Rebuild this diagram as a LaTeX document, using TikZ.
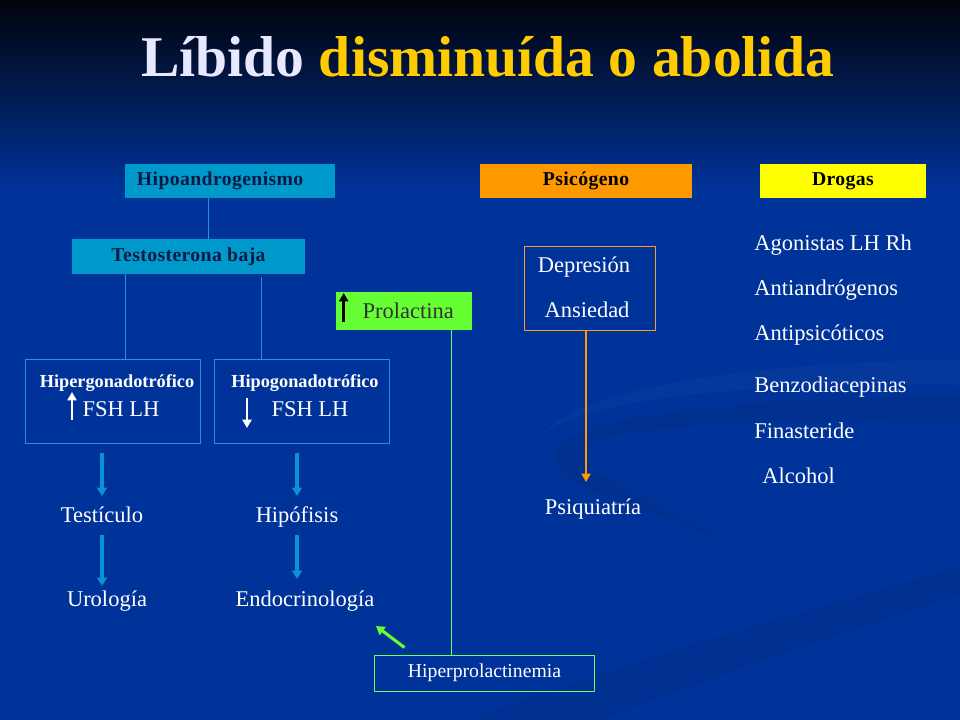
\documentclass[tikz,border=0pt]{standalone}
\usepackage{fontspec}
\setmainfont{Liberation Serif}
\usetikzlibrary{positioning,calc,arrows.meta}
\definecolor{bodyblue}{HTML}{003399}
\definecolor{midblue}{HTML}{0A1F55}
\definecolor{topblack}{HTML}{01030C}
\definecolor{cyanbox}{HTML}{0099CC}
\definecolor{boxtext}{HTML}{0B1A45}
\definecolor{orangebox}{HTML}{FF9900}
\definecolor{yellowbox}{HTML}{FFFF00}
\definecolor{greenbox}{HTML}{66FF33}
\definecolor{arrowblue}{HTML}{0A93D4}
\definecolor{lineblue}{HTML}{2B8FE0}
\definecolor{lineorange}{HTML}{FF9933}
\definecolor{linegreen}{HTML}{66FF66}
\definecolor{lavender}{HTML}{E8E8FF}
\definecolor{gold}{HTML}{FFCC00}
\begin{document}
\begin{tikzpicture}[x=0.025cm, y=-0.025cm, font=\fontsize{16}{19}\selectfont, line join=round,
	txt/.style={text=white, inner sep=0pt, anchor=base},
	capbox/.style={inner sep=0pt, text=boxtext, font=\bfseries\fontsize{14}{16}\selectfont\addfontfeatures{LetterSpace=2}},
	gonad/.style={draw=lineblue, line width=0.7pt, minimum width=4.35cm, minimum height=2.075cm, inner sep=0pt},
	thinline/.style={draw=lineblue, line width=0.7pt},
	bluearr/.style={draw=arrowblue, line width=2.2pt, -{Triangle[length=6pt,width=7pt]}},
	whitearr/.style={draw=white, line width=2pt, -{Triangle[length=6pt,width=6.5pt]}}]
	% fondo
	\useasboundingbox (0,0) rectangle (960,720);
	\fill[bodyblue] (0,190) rectangle (960,720);
	\shade[top color=topblack, middle color=midblue, bottom color=bodyblue] (0,0) rectangle (960,191);
	\fill[black, opacity=.06] (960,395) .. controls (700,400) and (540,420) .. (555,460) .. controls (570,500) and (700,520) .. (760,560) .. controls (680,510) and (590,480) .. (582,455) .. controls (575,430) and (720,418) .. (960,422) -- cycle;
	\fill[black, opacity=.05] (470,720) .. controls (650,650) and (820,610) .. (960,565) -- (960,595) .. controls (820,640) and (680,690) .. (600,720) -- cycle;
	\fill[white, opacity=.025] (960,360) .. controls (760,360) and (560,390) .. (540,440) .. controls (560,400) and (760,380) .. (960,385) -- cycle;
	% titulo
	\node (title) [anchor=base, text=lavender, font=\bfseries\fontsize{41}{44}\selectfont] at (488,77) {Líbido \textcolor{gold}{disminuída o abolida}};
	% cajas de cabecera
	\node (hipo) [capbox, fill=cyanbox, minimum width=5.25cm, minimum height=0.85cm] at (230,181) {\hspace{-14pt}Hipoandrogenismo};
	\node (psico) [capbox, fill=orangebox, text=black, minimum width=5.3cm, minimum height=0.85cm] at (586,181) {Psicógeno};
	\node (drogas) [capbox, fill=yellowbox, text=black, minimum width=4.15cm, minimum height=0.85cm] at (843,181) {Drogas};
	\node (testo) [capbox, fill=cyanbox, minimum width=5.825cm, minimum height=0.875cm] at (188.5,256.5) {Testosterona baja};
	\node (prol) [capbox, fill=greenbox, text=black!80, font=\fontsize{16}{19}\selectfont, minimum width=3.4cm, minimum height=0.95cm] at (404,311) {\hspace{6pt}Prolactina};
	% hipogonadismo
	\node (hiperA) [gonad] at (113,401.5) {};
	\node (hipoB) [gonad] at (302,401.5) {};
	\node (hiperT) [txt, font=\bfseries\fontsize{13}{15}\selectfont] at (117,388) {Hipergonadotrófico};
	\node (hipoT) [txt, font=\bfseries\fontsize{13}{15}\selectfont] at (305,388) {Hipogonadotrófico};
	\node (fshA) [txt] at (121,417) {FSH LH};
	\node (fshB) [txt] at (310,417) {FSH LH};
	\draw[whitearr] ($(fshA.base)+(-49,3)$) -- ($(fshA.base)+(-49,-25)$);
	\draw[whitearr] ($(fshB.base)+(-63,-19)$) -- ($(fshB.base)+(-63,11)$);
	\draw[thinline] ($(hipo.south)+(-22,0)$) -- ($(hipo.south |- testo.north)+(-22,0)$);
	\draw[thinline] ($(testo.south)+(-63.5,0)$) -- ($(testo.south |- hiperA.north)+(-63.5,0)$);
	\draw[thinline] ($(testo.south)+(72.5,3)$) -- ($(testo.south |- hipoB.north)+(72.5,0)$);
	% especialidades
	\node (testi) [txt] at (102,523) {Testículo};
	\node (uro) [txt] at (107,606) {Urología};
	\node (hipof) [txt] at (297,523) {Hipófisis};
	\node (endo) [txt] at (305,606) {Endocrinología};
	\draw[bluearr] ($(hiperA.south -| testi.base)+(0,9)$) -- ($(testi.base)+(0,-27)$);
	\draw[bluearr] ($(testi.base)+(0,12)$) -- ($(testi.base |- uro.base)+(0,-20)$);
	\draw[bluearr] ($(hipoB.south -| hipof.base)+(0,9)$) -- ($(hipof.base)+(0,-27)$);
	\draw[bluearr] ($(hipof.base)+(0,12)$) -- ($(hipof.base |- endo.base)+(0,-27)$);
	% prolactina
	\draw[black, line width=2pt, -{Triangle[length=6pt,width=6.5pt]}] ($(prol.west)+(8,11)$) -- ($(prol.west)+(8,-18)$);
	\node (hprl) [draw=linegreen, line width=0.7pt, text=white, font=\fontsize{14}{16}\selectfont, minimum width=5.475cm, minimum height=0.9cm, inner sep=0pt] at (484.5,673) {Hiperprolactinemia};
	\draw[linegreen, line width=0.7pt] ($(prol.south)+(47,0)$) -- ($(prol.south |- hprl.north)+(47,0)$);
	\draw[greenbox, line width=2.2pt, -{Triangle[length=6pt,width=7pt]}] ($(hprl.north west)+(30,-7)$) -- ($(endo.base)+(71,20)$);
	% psicogeno
	\node (depbox) [draw=lineorange, line width=0.7pt, minimum width=3.25cm, minimum height=2.075cm, inner sep=0pt] at (590,288.5) {};
	\node (dep) [txt] at (584,273) {Depresión};
	\node (ans) [txt] at (587,318) {Ansiedad};
	\node (psiq) [txt] at (593,515) {Psiquiatría};
	\draw[orangebox, line width=1.6pt, -{Triangle[length=6pt,width=6.5pt]}] ($(depbox.south)+(-4,0)$) -- ($(depbox.south |- psiq.base)+(-4,-33)$);
	% drogas
	\foreach \nm/\y/\dx/\droga in {ag/251/0/Agonistas LH Rh, aa/296/0/Antiandrógenos, ap/341/0/Antipsicóticos, bz/393/0/Benzodiacepinas, fi/439/0/Finasteride, al/484/8/Alcohol}
	\node (\nm) [txt, anchor=base west] at (754+\dx,\y) {\droga};
\end{tikzpicture}
\end{document}
